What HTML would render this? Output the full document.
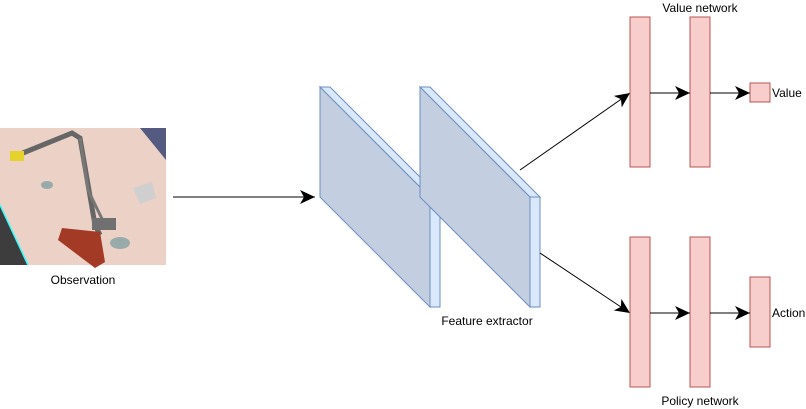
<!DOCTYPE html>
<html><head><meta charset="utf-8"><style>
html,body{margin:0;padding:0;background:#fff;width:806px;height:409px;overflow:hidden}
text{font-family:"Liberation Sans",sans-serif;font-size:12px;fill:#000}
</style></head><body>
<svg width="806" height="409" viewBox="0 0 806 409">
<defs>
<marker id="ah" markerWidth="16" markerHeight="14" refX="15" refY="7" orient="auto" markerUnits="userSpaceOnUse">
<path d="M0,0 L15,7 L0,14 L4,7 Z" fill="#000"/></marker>
</defs>
<g>
<rect x="0" y="128" width="166" height="137" fill="#ecd2c6"/>
<polygon points="0,205 0,265 28,265" fill="#3d3d3d"/>
<polyline points="0,205 28,265" stroke="#3ff" stroke-width="1.5" fill="none"/>
<polygon points="140,128 166,128 166,160" fill="#555a80"/>
<polyline points="18,155 72,133 80,138 95,225 100,235" stroke="#666" stroke-width="5" fill="none"/>
<polyline points="80,138 88,190 105,225" stroke="#777" stroke-width="3" fill="none"/>
<rect x="10" y="151" width="14" height="10" fill="#e5d22a"/>
<polygon points="62,228 100,232 105,262 95,268 58,240" fill="#a33a25"/>
<rect x="92" y="218" width="24" height="12" fill="#707070"/>
<polygon points="133,188 152,182 156,198 140,204" fill="#cfcfcf"/>
<ellipse cx="120" cy="243" rx="10" ry="6" fill="#9aa"/>
<ellipse cx="47" cy="185" rx="6" ry="4" fill="#9aa"/>
</g>
<text x="83" y="284" text-anchor="middle">Observation</text>
<line x1="173" y1="197" x2="315" y2="197" stroke="#000" marker-end="url(#ah)"/>
<g stroke="#6c8ebf" stroke-width="1">
<polygon points="320,87 430,197 430,307 320,197" fill="#c3cfe0"/>
<polygon points="320,87 330,87 440,197 430,197" fill="#dae8fc"/>
<rect x="430" y="197" width="10" height="110" fill="#dae8fc"/>
</g>
<g stroke="#6c8ebf" stroke-width="1">
<polygon points="420,87 530,197 530,307 420,197" fill="#c3cfe0"/>
<polygon points="420,87 430,87 540,197 530,197" fill="#dae8fc"/>
<rect x="530" y="197" width="10" height="110" fill="#dae8fc"/>
</g>
<text x="487" y="325" text-anchor="middle">Feature extractor</text>
<line x1="520" y1="170" x2="630" y2="93" stroke="#000" marker-end="url(#ah)"/>
<line x1="540" y1="253" x2="630" y2="313" stroke="#000" marker-end="url(#ah)"/>
<g fill="#f8cecc" stroke="#b85450">
<rect x="630" y="17" width="20" height="150"/>
<rect x="690" y="17" width="20" height="150"/>
<rect x="750" y="83" width="20" height="19"/>
<rect x="630" y="237" width="20" height="150"/>
<rect x="690" y="237" width="20" height="150"/>
<rect x="750" y="277" width="20" height="70"/>
</g>
<g stroke="#000">
<line x1="650" y1="93" x2="690" y2="93" marker-end="url(#ah)"/>
<line x1="710" y1="93" x2="750" y2="93" marker-end="url(#ah)"/>
<line x1="650" y1="313" x2="690" y2="313" marker-end="url(#ah)"/>
<line x1="710" y1="313" x2="750" y2="313" marker-end="url(#ah)"/>
</g>
<text x="700" y="12" text-anchor="middle">Value network</text>
<text x="772" y="97">Value</text>
<text x="772" y="317">Action</text>
<text x="700" y="405" text-anchor="middle">Policy network</text>
</svg>
</body></html>
